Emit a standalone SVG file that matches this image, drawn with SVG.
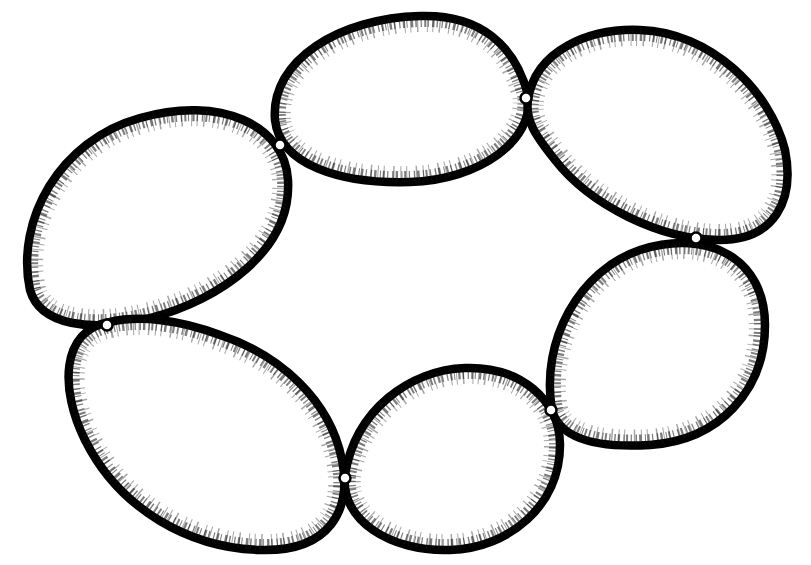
<svg xmlns="http://www.w3.org/2000/svg" xmlns:xlink="http://www.w3.org/1999/xlink" width="811" height="565" viewBox="0 0 811 565">
<style>
.out{fill:#fff;stroke:#000;stroke-width:8.5;stroke-linejoin:round}
.tick{fill:none;stroke:#111;stroke-width:22;stroke-dasharray:1.2 2.6 2 1.8 1 3.5 2.4 2.2 1.4 4;opacity:.55}
.tick2{fill:none;stroke:#000;stroke-width:32;stroke-dasharray:1 6 1.5 9 1 5;opacity:.35}
.jn{fill:#fff;stroke:#000;stroke-width:2.5}
</style>
<defs>
<path id="p1" d="M 275,120 C 270,60 340,18 420,16 C 480,14 515,45 528,95 C 535,140 480,180 410,182 C 340,184 280,165 275,120 Z"/>
<path id="p2" d="M 528,100 C 535,50 590,28 640,30 C 710,32 770,90 785,150 C 795,200 775,240 720,240 C 660,240 590,205 555,160 C 535,135 525,120 528,100 Z"/>
<path id="p3" d="M 30,290 C 15,220 60,140 140,118 C 220,95 285,125 288,180 C 292,250 220,300 150,318 C 90,333 40,325 30,290 Z"/>
<path id="p4" d="M 110,322 C 60,330 60,390 85,440 C 120,510 190,548 260,550 C 330,552 352,510 342,460 C 330,400 280,355 220,335 C 180,320 140,315 110,322 Z"/>
<path id="p5" d="M 345,475 C 355,410 410,370 465,368 C 520,366 560,400 560,445 C 560,505 510,548 450,550 C 390,552 340,520 345,475 Z"/>
<path id="p6" d="M 552,410 C 540,340 580,270 640,250 C 710,228 765,260 765,325 C 765,390 720,440 650,445 C 600,448 560,440 552,410 Z"/>
<clipPath id="c1"><use xlink:href="#p1"/></clipPath>
<clipPath id="c2"><use xlink:href="#p2"/></clipPath>
<clipPath id="c3"><use xlink:href="#p3"/></clipPath>
<clipPath id="c4"><use xlink:href="#p4"/></clipPath>
<clipPath id="c5"><use xlink:href="#p5"/></clipPath>
<clipPath id="c6"><use xlink:href="#p6"/></clipPath>
</defs>
<rect width="811" height="565" fill="#fff"/>
<g id="cell1"><use xlink:href="#p1" class="out"/><g clip-path="url(#c1)"><use xlink:href="#p1" class="tick"/><use xlink:href="#p1" class="tick2"/></g></g>
<g id="cell2"><use xlink:href="#p2" class="out"/><g clip-path="url(#c2)"><use xlink:href="#p2" class="tick"/><use xlink:href="#p2" class="tick2"/></g></g>
<g id="cell3"><use xlink:href="#p3" class="out"/><g clip-path="url(#c3)"><use xlink:href="#p3" class="tick"/><use xlink:href="#p3" class="tick2"/></g></g>
<g id="cell4"><use xlink:href="#p4" class="out"/><g clip-path="url(#c4)"><use xlink:href="#p4" class="tick"/><use xlink:href="#p4" class="tick2"/></g></g>
<g id="cell5"><use xlink:href="#p5" class="out"/><g clip-path="url(#c5)"><use xlink:href="#p5" class="tick"/><use xlink:href="#p5" class="tick2"/></g></g>
<g id="cell6"><use xlink:href="#p6" class="out"/><g clip-path="url(#c6)"><use xlink:href="#p6" class="tick"/><use xlink:href="#p6" class="tick2"/></g></g>
<g id="junctions">
<circle class="jn" cx="280" cy="145" r="5.5"/>
<circle class="jn" cx="526" cy="98" r="5.5"/>
<circle class="jn" cx="107" cy="325" r="5.5"/>
<circle class="jn" cx="345" cy="478" r="5.5"/>
<circle class="jn" cx="551" cy="410" r="5.5"/>
<circle class="jn" cx="696" cy="238" r="5.5"/>
</g>
</svg>
